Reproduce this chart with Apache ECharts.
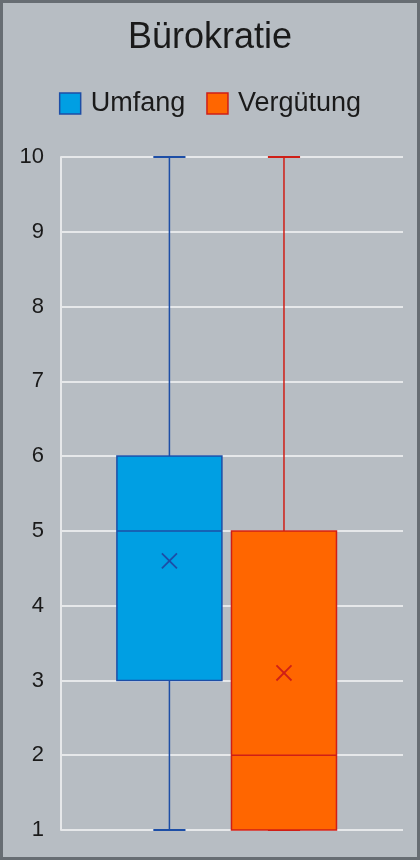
<!DOCTYPE html>
<html>
<head>
<meta charset="utf-8">
<script src="https://cdn.jsdelivr.net/npm/echarts@6/dist/echarts.min.js"></script>
<style>
  html, body { margin: 0; padding: 0; background: #b7bdc3; }
  #chart { width: 420px; height: 860px; }
</style>
</head>
<body>
<div id="chart"></div>
<script>
// Chart content
const chartTitle = 'Bürokratie';
const categories = ['Bürokratie'];
const seriesNames = ['Umfang', 'Vergütung'];
// five-number summaries: min, Q1, median, Q3, max
const umfangStats = [1, 3, 5, 6, 10];
const verguetungStats = [1, 1, 2, 5, 10];
const umfangMean = 4.6;
const verguetungMean = 3.1;
const yMin = 1;
const yMax = 10;
const yStep = 1;

const FONT = '"Liberation Sans", Arial, sans-serif';
const TEXT = '#1a1a1a';
const GRIDLINE = '#e6e8ea';

// Look of each box: colours plus placement within the category band
const looks = [
  { fill: '#009fe3', stroke: '#1d4ea6', offset: -0.183, width: 0.307, cap: 0.094, mark: 0.044 },
  { fill: '#ff6600', stroke: '#cf1f17', offset: 0.152, width: 0.307, cap: 0.094, mark: 0.044 }
];

function boxRenderer(look) {
  return function (params, api) {
    const cat = api.value(0);
    const band = api.size([1, 0])[0];
    const cx = api.coord([cat, yMin])[0] + band * look.offset;
    const half = band * look.width / 2;
    const capHalf = band * look.cap / 2;
    const m = band * look.mark / 2;
    const y = (i) => api.coord([cat, api.value(i)])[1];
    const pMin = y(1), pQ1 = y(2), pMed = y(3), pQ3 = y(4), pMax = y(5), pMean = y(6);
    const line = (x1, y1, x2, y2, w) => ({
      type: 'line',
      shape: { x1: x1, y1: y1, x2: x2, y2: y2 },
      style: { stroke: look.stroke, lineWidth: w }
    });
    return {
      type: 'group',
      children: [
        line(cx, pQ3, cx, pMax, 1.5),
        line(cx, pQ1, cx, pMin, 1.5),
        line(cx - capHalf, pMax, cx + capHalf, pMax, 2),
        line(cx - capHalf, pMin, cx + capHalf, pMin, 2),
        {
          type: 'rect',
          shape: { x: cx - half, y: pQ3, width: half * 2, height: pQ1 - pQ3 },
          style: { fill: look.fill, stroke: look.stroke, lineWidth: 1.5 }
        },
        line(cx - half, pMed, cx + half, pMed, 1.5),
        line(cx - m, pMean - m, cx + m, pMean + m, 1.8),
        line(cx - m, pMean + m, cx + m, pMean - m, 1.8)
      ]
    };
  };
}

function makeSeries(idx, stats, mean) {
  const look = looks[idx];
  return {
    name: seriesNames[idx],
    type: 'custom',
    renderItem: boxRenderer(look),
    itemStyle: { color: look.fill, borderColor: look.stroke, borderWidth: 1.5 },
    encode: { x: 0, y: [1, 2, 3, 4, 5, 6] },
    data: [[categories[0]].concat(stats, [mean])]
  };
}

const chart = echarts.init(document.getElementById('chart'), null, { renderer: 'canvas' });
chart.setOption({
  backgroundColor: '#b7bdc3',
  animation: false,
  title: {
    text: chartTitle,
    left: 'center',
    top: 15,
    textStyle: { fontFamily: FONT, fontSize: 36, fontWeight: 'normal', color: TEXT }
  },
  legend: {
    top: 85,
    left: 'center',
    icon: 'rect',
    itemWidth: 21,
    itemHeight: 21,
    itemGap: 21,
    textStyle: { fontFamily: FONT, fontSize: 27, color: TEXT, padding: [0, 0, 0, 5] },
    data: seriesNames.map((n, i) => ({
      name: n,
      itemStyle: { color: looks[i].fill, borderColor: looks[i].stroke, borderWidth: 1.5 }
    }))
  },
  grid: { left: 61, right: 17, top: 157, bottom: 30, containLabel: false },
  xAxis: {
    type: 'category',
    data: categories,
    axisLine: { show: false },
    axisTick: { show: false },
    axisLabel: { show: false },
    splitLine: { show: false }
  },
  yAxis: {
    type: 'value',
    min: yMin,
    max: yMax,
    interval: yStep,
    axisLine: { show: true, lineStyle: { color: GRIDLINE, width: 2 } },
    axisTick: { show: false },
    axisLabel: { fontFamily: FONT, fontSize: 22, color: TEXT, margin: 17, padding: [4, 0, 0, 0] },
    splitLine: { lineStyle: { color: GRIDLINE, width: 2 } }
  },
  graphic: [{
    type: 'rect',
    z: 100,
    shape: { x: 1.5, y: 1.5, width: 417, height: 857 },
    style: { fill: null, stroke: '#676d73', lineWidth: 3 }
  }],
  series: [
    makeSeries(0, umfangStats, umfangMean),
    makeSeries(1, verguetungStats, verguetungMean)
  ]
});
</script>
</body>
</html>
